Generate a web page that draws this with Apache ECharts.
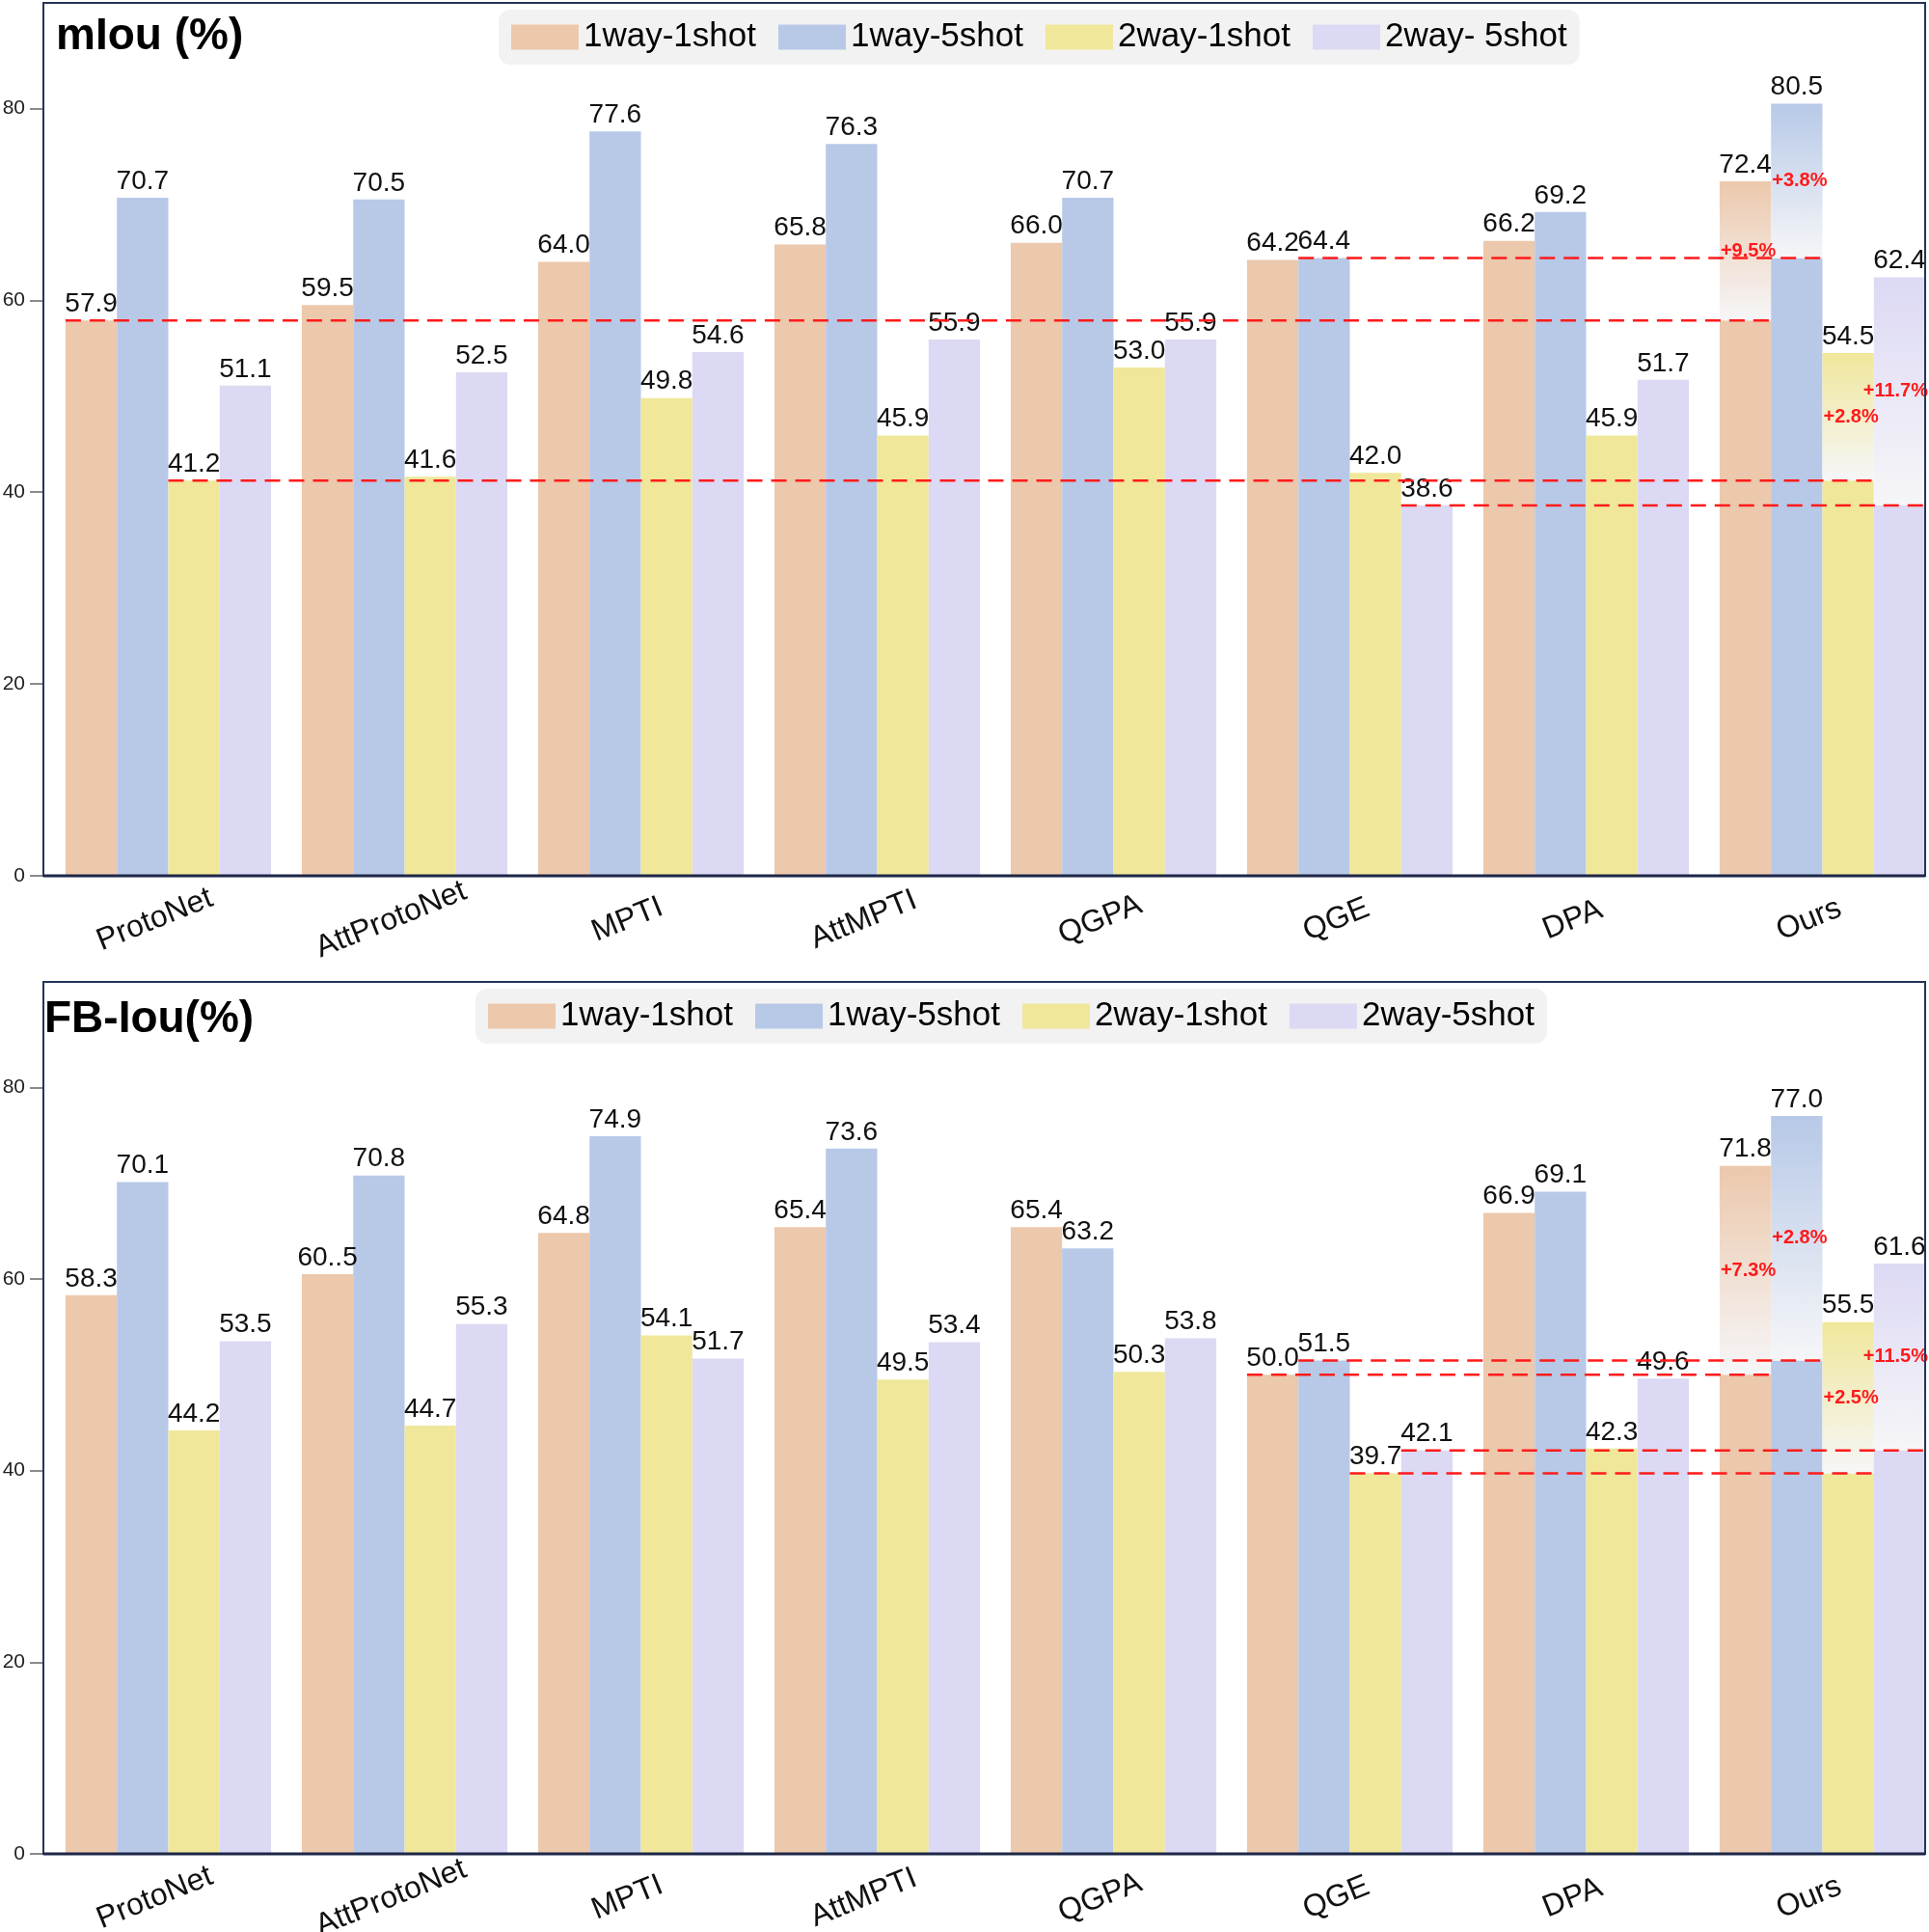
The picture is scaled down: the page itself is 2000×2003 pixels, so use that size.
<!DOCTYPE html>
<html>
<head>
<meta charset="utf-8">
<script src="https://cdn.jsdelivr.net/npm/echarts@6/dist/echarts.min.js"></script>
<style>
html,body{margin:0;padding:0;background:#fff;}
#c{width:2000px;height:2003px;}
</style>
</head>
<body>
<div id="c"></div>
<script>
const categories = ['ProtoNet','AttProtoNet','MPTI','AttMPTI','QGPA','QGE','DPA','Ours'];
const seriesNames = ['1way-1shot','1way-5shot','2way-1shot','2way-5shot'];
const yTicks = [0,20,40,60,80];

// mIoU (%)
const miou1w1s = [57.9,59.5,64.0,65.8,66.0,64.2,66.2,72.4];
const miou1w5s = [70.7,70.5,77.6,76.3,70.7,64.4,69.2,80.5];
const miou2w1s = [41.2,41.6,49.8,45.9,53.0,42.0,45.9,54.5];
const miou2w5s = [51.1,52.5,54.6,55.9,55.9,38.6,51.7,62.4];
const miouGain = ['+9.5%','+3.8%','+2.8%','+11.7%'];

// FB-IoU (%)
const fb1w1s = [58.3,60.5,64.8,65.4,65.4,50.0,66.9,71.8];
const fb1w5s = [70.1,70.8,74.9,73.6,63.2,51.5,69.1,77.0];
const fb2w1s = [44.2,44.7,54.1,49.5,50.3,39.7,42.3,55.5];
const fb2w5s = [53.5,55.3,51.7,53.4,53.8,42.1,49.6,61.6];
const fbGain = ['+7.3%','+2.8%','+2.5%','+11.5%'];
// label text as printed in the figure: [category, series, text]
const fbLabelText = [[1, 0, '60..5']];

const colors = ['#ECC8AC','#B7C9E7','#F0E79B','#DCD9F4'];
const FONT = 'Liberation Sans, Arial, sans-serif';
const CAT_GAP = 0.13;
const OURS = categories.length - 1;
const FRAME_L = 45, FRAME_R = 1996, GRID_L = 52, GRID_W = 1960;

const panels = [
  {title:'mIou (%)', vals:[miou1w1s,miou1w5s,miou2w1s,miou2w5s], gain:miouGain, labelText:[],
   top:3, bottom:908, titlePos:{left:58, top:15},
   legendPos:{left:517, top:10}, legendFmt:n => n === '2way-5shot' ? '2way- 5shot' : n},
  {title:'FB-Iou(%)', vals:[fb1w1s,fb1w5s,fb2w1s,fb2w5s], gain:fbGain, labelText:fbLabelText,
   top:1018, bottom:1922, titlePos:{left:46, top:1034},
   legendPos:{left:493, top:1025}, legendFmt:n => n}
];

const option = {
  backgroundColor:'#fff',
  animation:false,
  textStyle:{fontFamily:FONT},
  title:[], legend:[], grid:[], xAxis:[], yAxis:[], series:[], graphic:[]
};

panels.forEach((p, pi) => {
  option.title.push({text:p.title, left:p.titlePos.left, top:p.titlePos.top, padding:0,
    textStyle:{fontSize:46, fontWeight:'bold', color:'#000', fontFamily:FONT}});
  option.legend.push({data:seriesNames, left:p.legendPos.left, top:p.legendPos.top,
    backgroundColor:'#f2f2f2', borderRadius:12, padding:[11,13,11,13], itemGap:23,
    itemWidth:70, itemHeight:26, icon:'rect', formatter:p.legendFmt,
    textStyle:{fontSize:35, color:'#000', fontFamily:FONT}});
  option.grid.push({show:false, left:GRID_L, width:GRID_W, top:p.top, height:p.bottom - p.top,
    containLabel:false, outerBoundsMode:'none'});
  option.graphic.push({type:'rect', z:100, silent:true,
    shape:{x:FRAME_L, y:p.top, width:FRAME_R - FRAME_L, height:p.bottom - p.top},
    style:{fill:'none', stroke:'#26345a', lineWidth:2}});
  option.graphic.push({type:'line', z:100, silent:true,
    shape:{x1:FRAME_L, y1:p.bottom, x2:FRAME_R, y2:p.bottom},
    style:{stroke:'#1d2747', lineWidth:3}});
  option.xAxis.push({type:'category', gridIndex:pi, data:categories,
    axisLine:{show:false},
    axisTick:{show:false},
    axisLabel:{rotate:22, align:'center', verticalAlign:'middle', margin:40, padding:[0,30,0,0],
      fontSize:32, color:'#111', fontFamily:FONT}});
  option.yAxis.push({type:'value', gridIndex:pi, min:0, max:91, interval:20, offset:GRID_L - FRAME_L,
    splitLine:{show:false},
    axisLine:{show:false},
    axisTick:{show:true, length:14, customValues:yTicks, lineStyle:{color:'#666', width:1.5}},
    axisLabel:{customValues:yTicks, margin:19, fontSize:21, color:'#222', fontFamily:FONT}});

  const ann = [];
  p.vals.forEach((arr, k) => {
    const baseVals = arr.slice(0, OURS);
    const minVal = Math.min.apply(null, baseVals);
    const minIdx = baseVals.indexOf(minVal);
    ann.push([minIdx, k, OURS, k, minVal, arr[OURS]]);
    const stackId = 'p' + pi + 's' + k;
    const baseData = arr.map((v, i) => {
      if (i === OURS) return {value:minVal, label:{show:false}};
      const t = p.labelText.find(e => e[0] === i && e[1] === k);
      return t ? {value:v, label:{formatter:t[2]}} : v;
    });
    const gainData = arr.map((v, i) => i === OURS ? +(v - minVal).toFixed(2) : '-');
    option.series.push({type:'bar', name:seriesNames[k], xAxisIndex:pi, yAxisIndex:pi, stack:stackId,
      barCategoryGap:(CAT_GAP * 100) + '%', barGap:'0%', data:baseData,
      itemStyle:{color:colors[k]},
      label:{show:true, position:'top', distance:3, fontSize:28, color:'#111', fontFamily:FONT,
        formatter:prm => arr[prm.dataIndex].toFixed(1)}});
    option.series.push({type:'bar', name:seriesNames[k], xAxisIndex:pi, yAxisIndex:pi, stack:stackId,
      barCategoryGap:(CAT_GAP * 100) + '%', barGap:'0%', data:gainData,
      itemStyle:{color:{type:'linear', x:0, y:0, x2:0, y2:1,
        colorStops:[{offset:0, color:colors[k]}, {offset:1, color:'#f6f6f8'}]}},
      label:{show:true, position:'top', distance:3, fontSize:28, color:'#111', fontFamily:FONT,
        formatter:prm => arr[prm.dataIndex].toFixed(1)}});
  });

  const gains = p.gain;
  option.series.push({type:'custom', xAxisIndex:pi, yAxisIndex:pi, z:10, silent:true,
    encode:{x:[0,2], y:[4,5]},
    data:ann,
    renderItem:(params, api) => {
      const band = api.size([1, 0])[0];
      const total = band * (1 - CAT_GAP);
      const bw = total / 4;
      const v = api.value(4), top = api.value(5);
      const a = api.coord([api.value(0), v]);
      const b = api.coord([api.value(2), v]);
      const x1 = a[0] - total / 2 + bw * api.value(1);
      const x2 = b[0] - total / 2 + bw * (api.value(3) + 1);
      const mid = api.coord([api.value(2), (v + top) / 2]);
      const txt = gains[params.dataIndex];
      const font = 'bold 20px ' + FONT;
      const tw = echarts.format.getTextRect ? echarts.format.getTextRect(txt, font).width : txt.length * 11.5;
      let tx = b[0] - total / 2 + bw * api.value(3) + 1;
      const maxX = api.getWidth() - 1 - tw;
      if (tx > maxX) tx = maxX;
      return {type:'group', children:[
        {type:'line', shape:{x1:x1, y1:a[1], x2:x2, y2:a[1]},
          style:{stroke:'#ff1a1a', lineWidth:2.5, lineDash:[16,9]}},
        {type:'text', x:tx, y:mid[1],
          style:{text:txt, fill:'#ff1a1a', font:font,
            align:'left', verticalAlign:'middle', textAlign:'left', textVerticalAlign:'middle'}}
      ]};
    }});
});

const chart = echarts.init(document.getElementById('c'), null, {renderer:'canvas'});
chart.setOption(option);
</script>
</body>
</html>
